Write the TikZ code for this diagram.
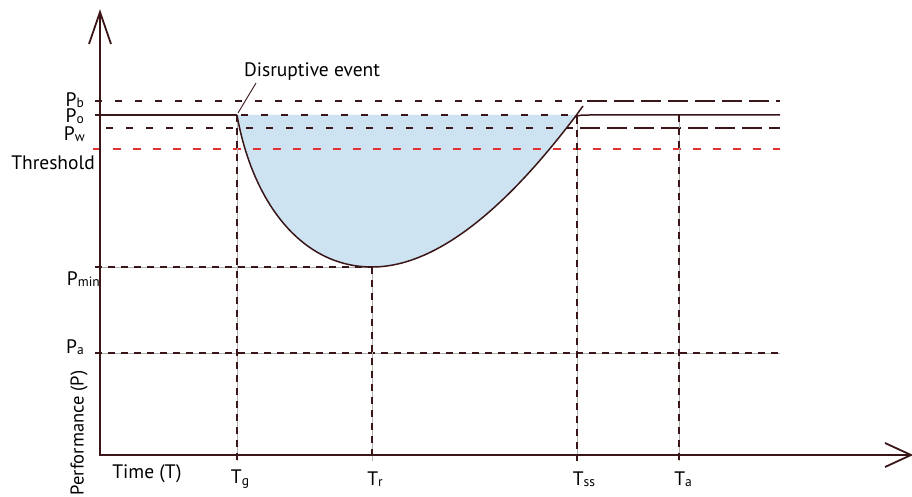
\documentclass[tikz,border=0pt]{standalone}
\usepackage{fontspec}
\setmainfont{PT Sans}
\definecolor{dk}{RGB}{58,22,24}
\definecolor{rd}{RGB}{226,50,50}
\definecolor{fillblue}{RGB}{205,227,242}
\newcommand\lbl{\fontsize{19.5}{23}\selectfont}
\newcommand\sbx[1]{\raisebox{-0.15ex}{\fontsize{13.5}{15}\selectfont #1}}
\begin{document}
\begin{tikzpicture}[x=1pt,y=-1pt,
  ax/.style={draw=dk,line width=1.8pt},
  crv/.style={draw=dk,line width=1.5pt},
  sdash/.style={draw=dk,line width=1.4pt,dash pattern=on 7pt off 13pt},
  ldash/.style={draw=dk,line width=1.4pt,dash pattern=on 20pt off 7pt},
  rdash/.style={draw=rd,line width=1.3pt,dash pattern=on 8pt off 12pt},
  guide/.style={draw=gray!60,line width=0.8pt,postaction={draw=dk,line width=1.5pt,dash pattern=on 7pt off 6pt}},
  txt/.style={inner sep=0pt,font=\lbl}]
\useasboundingbox (0,0) rectangle (912,497);
% coordinates
\coordinate (O) at (100,455);
\coordinate (Ytip) at (100,12);
\coordinate (Xtip) at (911,455);
\coordinate (Ya1) at (89,44);
\coordinate (Ya2) at (111,44);
\coordinate (Xa1) at (885,443);
\coordinate (Xa2) at (885,467);
\coordinate (g0) at (237,115);
\coordinate (gmin) at (372,267);
\coordinate (gss) at (576,115);
% fill
\fill[fillblue] (g0) .. controls (252,200) and (300,267) .. (gmin)
   .. controls (452,267) and (530,176) .. (gss) -- cycle;
% horizontal lines
\draw[sdash] (95,101) -- (583,101);
\draw[ldash] (587,101) -- (780,101);
\draw[sdash,dash phase=-11pt] (95,128) -- (578,128);
\draw[ldash] (580,128) -- (780,128);
\draw[rdash] (93,149) -- (780,149);
\draw[crv] (95,115) -- (g0);
\draw[sdash,dash phase=-4pt] (g0) -- (gss);
\draw[guide] (95,267) -- (gmin);
\draw[guide] (95,353) -- (780,353);
% verticals
\draw[guide] (g0) -- (237,461);
\draw[guide] (gmin) -- (372,461);
\draw[guide] (577,117) -- (577,461);
\draw[guide] (679,115) -- (679,461);
% curve
\draw[crv] (g0) .. controls (252,200) and (300,267) .. (gmin)
   .. controls (452,267) and (530,176) .. (575,117) -- (583,106);
\draw[crv] (575,117) .. controls (579,115) and (582,115) .. (590,115) -- (780,115);
% axes
\draw[ax] (Ytip) -- (O) -- (Xtip);
\draw[ax] (Ya1) -- (Ytip) -- (Ya2);
\draw[ax] (Xa1) -- (Xtip) -- (Xa2);
% labels
\node[txt,anchor=east] (pb) at (84,100) {P\sbx{b}};
\node[txt,anchor=east] (po) at (84,116) {P\sbx{o}};
\node[txt,anchor=east] (pw) at (85,134) {P\sbx{w}};
\node[txt,anchor=east] (th) at (95,163) {Threshold};
\node[inner sep=0pt,rotate=90,font=\fontsize{18.5}{21}\selectfont] (perf) at (79,433) {Performance (P)};
\node[txt,anchor=east] (pmin) at (100,279) {P\sbx{min}};
\node[txt,anchor=east] (pa) at (84,347) {P\sbx{a}};
\node[txt] (time) at (147,474) {Time (T)};
\node[txt] (tg) at (240,479) {T\sbx{g}};
\node[txt] (tr) at (375,479) {T\sbx{r}};
\node[txt] (tss) at (584,479) {T\sbx{ss}};
\node[txt] (ta) at (683,479) {T\sbx{a}};
\node[txt] (de) at (312,72) {Disruptive event};
\coordinate (deL) at (256,83);
\draw[draw=dk,line width=0.9pt] (deL) -- (238,113);
\end{tikzpicture}
\end{document}
